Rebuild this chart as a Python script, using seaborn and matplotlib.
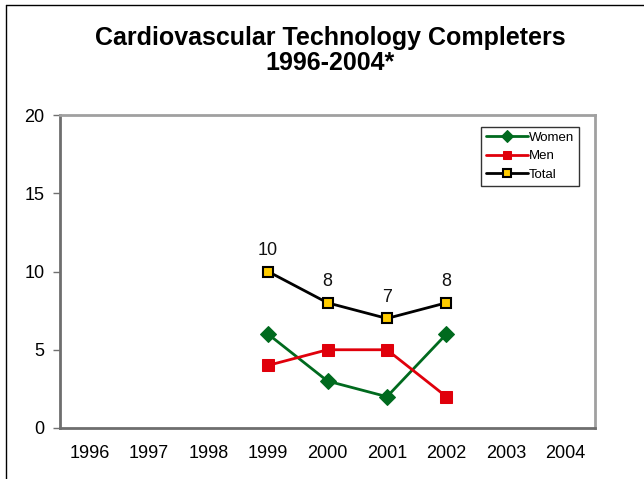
import matplotlib
matplotlib.use("Agg")
import matplotlib.pyplot as plt
import seaborn as sns
import pandas as pd
from matplotlib.lines import Line2D

years = [1996, 1997, 1998, 1999, 2000, 2001, 2002, 2003, 2004]
data_years = [1999, 2000, 2001, 2002]
women = [6, 3, 2, 6]
men = [4, 5, 5, 2]
total = [10, 8, 7, 8]
yticks = [0, 5, 10, 15, 20]

sns.set_theme(style="white")
plt.rcParams['font.family'] = ['Liberation Sans', 'DejaVu Sans']
plt.rcParams['text.color'] = 'black'
plt.rcParams['xtick.color'] = 'black'
plt.rcParams['ytick.color'] = 'black'

fig = plt.figure(figsize=(6.44, 4.79), dpi=100)
ax = fig.add_axes([60/644, 1-428/479, (595-60)/644, (428-115)/479])

df_w = pd.DataFrame({"Year": data_years, "Value": women})
df_m = pd.DataFrame({"Year": data_years, "Value": men})
df_t = pd.DataFrame({"Year": data_years, "Value": total})

sns.lineplot(data=df_w, x="Year", y="Value", ax=ax, color="#006a1e", lw=2,
             marker="D", markersize=8, markeredgecolor="#006a1e",
             markerfacecolor="#006a1e", label="Women")
sns.lineplot(data=df_m, x="Year", y="Value", ax=ax, color="#e0000b", lw=2,
             marker="s", markersize=8.5, markeredgecolor="#e0000b",
             markerfacecolor="#e0000b", label="Men")
sns.lineplot(data=df_t, x="Year", y="Value", ax=ax, color="black", lw=2,
             marker="s", markersize=7.5, markeredgecolor="black",
             markeredgewidth=1.5, markerfacecolor="#ffcc00", label="Total")

for xv, yv in zip(data_years, total):
    ax.annotate(str(yv), (xv, yv), xytext=(0, 9), textcoords="offset points",
                ha="center", va="bottom", fontsize=13, color="#111111")

ax.set_xlim(1995.5, 2004.5)
ax.set_ylim(0, 20)
ax.set_xticks(years)
ax.set_xticklabels([str(y) for y in years], fontsize=13)
ax.set_yticks(yticks)
ax.set_yticklabels([str(y) for y in yticks], fontsize=13)
ax.set_xlabel("")
ax.set_ylabel("")
ax.tick_params(axis="y", which="both", direction="out", length=5, width=1,
               color="#707070", left=True, pad=6)
ax.tick_params(axis="x", length=0, pad=12)

for side in ["left", "bottom"]:
    ax.spines[side].set_color("#6e6e6e")
    ax.spines[side].set_linewidth(2)
for side in ["top", "right"]:
    ax.spines[side].set_color("#a0a0a0")
    ax.spines[side].set_linewidth(2)

leg = ax.legend(loc="upper right", bbox_to_anchor=(579/644, 1-127/479),
                bbox_transform=fig.transFigure, fontsize=9.5, frameon=True,
                fancybox=False, edgecolor="black", handlelength=3.2,
                borderpad=0.35, labelspacing=0.48, handletextpad=0.1,
                borderaxespad=0, markerscale=0.75)
leg.get_frame().set_linewidth(1)

fig.suptitle("Cardiovascular Technology Completers\n1996-2004*",
             x=330/644, y=1-26/479, fontsize=18, fontweight="bold",
             va="top", linespacing=1.05)

# figure border (top and left)
fig.add_artist(Line2D([6/644, 6/644], [0, 1-5/479], transform=fig.transFigure,
                      color="black", lw=1))
fig.add_artist(Line2D([6/644, 1], [1-5/479, 1-5/479], transform=fig.transFigure,
                      color="black", lw=1))

fig.savefig("out.png", dpi=100)
